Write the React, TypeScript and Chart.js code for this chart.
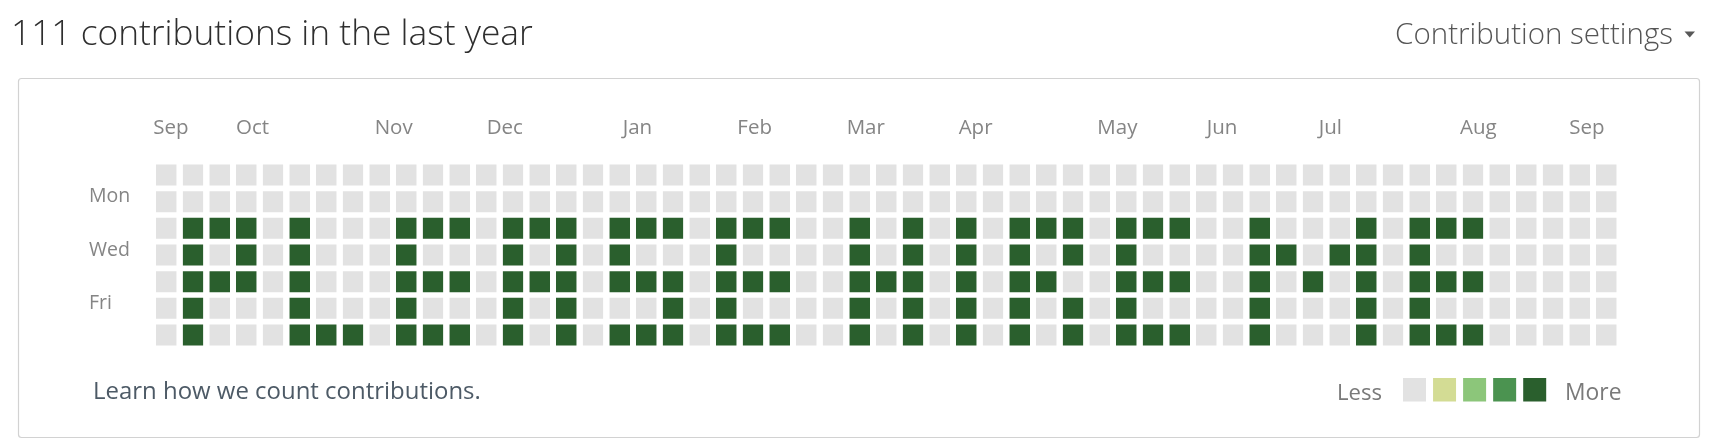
import { useEffect, useRef } from 'react';
import { Chart, registerables } from 'chart.js';

Chart.register(...registerables);

// ---------- data ----------
const TITLE = '111 contributions in the last year';
const SETTINGS = 'Contribution settings';
const LEARN = 'Learn how we count contributions.';
const LESS = 'Less';
const MORE = 'More';

const monthNames = ['Sep', 'Oct', 'Nov', 'Dec', 'Jan', 'Feb', 'Mar', 'Apr', 'May', 'Jun', 'Jul', 'Aug', 'Sep'];
// week index (column) at which each month label starts
const monthWeeks = [-0.1, 3.0, 8.2, 12.4, 17.5, 21.8, 25.9, 30.1, 35.3, 39.4, 43.6, 48.9, 53.0];

const dayNames = ['Sun', 'Mon', 'Tue', 'Wed', 'Thu', 'Fri', 'Sat'];
const dayTickLabels = ['', 'Mon', '', 'Wed', '', 'Fri', ''];

// contribution level (0-4) per week, one array per weekday
const sun = [0,0,0,0,0,0,0,0,0,0, 0,0,0,0,0,0,0,0,0,0, 0,0,0,0,0,0,0,0,0,0, 0,0,0,0,0,0,0,0,0,0, 0,0,0,0,0,0,0,0,0,0, 0,0,0,0,0];
const mon = [0,0,0,0,0,0,0,0,0,0, 0,0,0,0,0,0,0,0,0,0, 0,0,0,0,0,0,0,0,0,0, 0,0,0,0,0,0,0,0,0,0, 0,0,0,0,0,0,0,0,0,0, 0,0,0,0,0];
const tue = [0,4,4,4,0,4,0,0,0,4, 4,4,0,4,4,4,0,4,4,4, 0,4,4,4,0,0,4,0,4,0, 4,0,4,4,4,0,4,4,4,0, 0,4,0,0,0,4,0,4,4,4, 0,0,0,0,0];
const wed = [0,4,0,4,0,4,0,0,0,4, 0,0,0,4,0,4,0,4,0,0, 0,4,0,0,0,0,4,0,4,0, 4,0,4,0,4,0,4,0,0,0, 0,4,4,0,4,4,0,4,0,0, 0,0,0,0,0];
const thu = [0,4,4,4,0,4,0,0,0,4, 4,4,0,4,4,4,0,4,4,4, 0,4,4,4,0,0,4,4,4,0, 4,0,4,4,0,0,4,4,4,0, 0,4,0,4,0,4,0,4,4,4, 0,0,0,0,0];
const fri = [0,4,0,0,0,4,0,0,0,4, 0,0,0,4,0,4,0,0,0,4, 0,4,0,0,0,0,4,0,4,0, 4,0,4,0,4,0,4,0,0,0, 0,4,0,0,0,4,0,4,0,0, 0,0,0,0,0];
const sat = [0,4,0,0,0,4,4,4,0,4, 4,4,0,4,0,4,0,4,4,4, 0,4,4,4,0,0,4,0,4,0, 4,0,4,0,4,0,4,4,4,0, 0,4,0,0,0,4,0,4,4,4, 0,0,0,0,0];
const dayRows = [sun, mon, tue, wed, thu, fri, sat];

const levelColors = ['#e2e2e2', '#d3dc94', '#8cc67a', '#4b9350', '#2a5f2d'];
const legendLevels = [0, 1, 2, 3, 4];

// ---------- layout constants ----------
const W = 1716;
const H = 446;
const FONT = '"Open Sans", "Noto Sans", sans-serif';
const PITCH = 26.667;
const CELL_W = 20.7;
const CELL_H = 21;
const AREA_LEFT = 153;
const AREA_TOP = 161.67;
const Y_AXIS_LEFT = 89;
const X_AXIS_H = 61.67;

function drawFitted(
  ctx: CanvasRenderingContext2D,
  text: string,
  x: number,
  y: number,
  width: number,
  color: string,
  align: CanvasTextAlign,
  weight = 400
) {
  ctx.font = `${weight} 100px ${FONT}`;
  const w = ctx.measureText(text).width || 1;
  const size = (100 * width) / w;
  ctx.font = `${weight} ${size}px ${FONT}`;
  ctx.fillStyle = color;
  ctx.textAlign = align;
  ctx.textBaseline = 'alphabetic';
  ctx.fillText(text, x, y);
}

const decorPlugin = {
  id: 'decor',
  beforeDraw(chart: any) {
    const ctx: CanvasRenderingContext2D = chart.ctx;
    ctx.save();
    ctx.fillStyle = '#ffffff';
    ctx.fillRect(0, 0, chart.width, chart.height);

    // bordered box
    ctx.strokeStyle = '#d2d2d2';
    ctx.lineWidth = 1.2;
    ctx.beginPath();
    (ctx as any).roundRect(18.5, 78.5, 1681, 359, 3);
    ctx.stroke();

    // header texts
    drawFitted(ctx, TITLE, 11, 44.5, 522, '#2e2e2e', 'left', 300);
    drawFitted(ctx, SETTINGS, 1673, 43.5, 278, '#555555', 'right', 300);
    ctx.fillStyle = '#585858';
    ctx.beginPath();
    ctx.moveTo(1684.5, 31.5);
    ctx.lineTo(1695, 31.5);
    ctx.lineTo(1689.75, 37.5);
    ctx.closePath();
    ctx.fill();

    // footer
    drawFitted(ctx, LEARN, 93, 399, 388, '#4d5a66', 'left');
    drawFitted(ctx, LESS, 1382, 400, 45, '#7a7a7a', 'right');
    legendLevels.forEach((lv, i) => {
      ctx.fillStyle = levelColors[lv];
      ctx.fillRect(1403 + i * 30.05, 378, 23, 23.5);
    });
    drawFitted(ctx, MORE, 1565, 400, 56.5, '#7a7a7a', 'left');
    ctx.restore();
  },
};

export default function App() {
  const ref = useRef<HTMLCanvasElement | null>(null);

  useEffect(() => {
    document.body.style.margin = '0';
    const canvas = ref.current;
    if (!canvas) return;
    const weeks = sun.map((_, i) => String(i));
    const gapY = (PITCH - CELL_H) / 2;

    const chart = new Chart(canvas, {
      type: 'bar',
      data: {
        labels: weeks,
        datasets: dayRows.map((row, r) => ({
          label: dayNames[r],
          data: row.map(() => 1),
          backgroundColor: row.map((lv) => levelColors[lv]),
          borderColor: '#ffffff',
          borderWidth: { top: gapY, bottom: gapY, left: 0, right: 0 },
          borderSkipped: false,
          inflateAmount: 0,
          barPercentage: 1,
          categoryPercentage: CELL_W / PITCH,
        })),
      },
      options: {
        responsive: false,
        devicePixelRatio: 1,
        animation: false,
        events: [],
        layout: {
          padding: {
            left: Y_AXIS_LEFT,
            top: AREA_TOP - X_AXIS_H,
            right: W - (AREA_LEFT + PITCH * sun.length),
            bottom: H - (AREA_TOP + PITCH * dayRows.length),
          },
        },
        plugins: {
          legend: { display: false },
          tooltip: { enabled: false },
          title: { display: false },
        },
        scales: {
          x: {
            type: 'category',
            position: 'top',
            stacked: true,
            grid: { display: false, drawTicks: false },
            border: { display: false },
            afterBuildTicks: (s: any) => {
              s.ticks = monthWeeks.map((v) => ({ value: v }));
            },
            afterFit: (s: any) => {
              s.height = X_AXIS_H;
            },
            ticks: {
              autoSkip: false,
              maxRotation: 0,
              minRotation: 0,
              align: 'start',
              labelOffset: -CELL_W / 2,
              padding: 21.4,
              color: '#858585',
              font: { family: FONT, size: 20.5 },
              callback: (_v: any, i: number) => monthNames[i],
            },
          },
          y: {
            type: 'linear',
            stacked: true,
            reverse: true,
            min: 0,
            max: dayRows.length,
            grid: { display: false, drawTicks: false },
            border: { display: false },
            afterBuildTicks: (s: any) => {
              s.ticks = dayTickLabels
                .map((t, i) => ({ t, value: i + 0.5 }))
                .filter((d) => d.t !== '')
                .map((d) => ({ value: d.value }));
            },
            afterFit: (s: any) => {
              s.width = AREA_LEFT - Y_AXIS_LEFT;
            },
            ticks: {
              crossAlign: 'far',
              padding: 0,
              labelOffset: -5,
              color: '#858585',
              font: { family: FONT, size: 19.5 },
              callback: (v: any) => dayTickLabels[Math.floor(Number(v))],
            },
          },
        },
      },
      plugins: [decorPlugin],
    } as any);

    return () => chart.destroy();
  }, []);

  return <canvas ref={ref} width={W} height={H} style={{ display: 'block' }} />;
}
